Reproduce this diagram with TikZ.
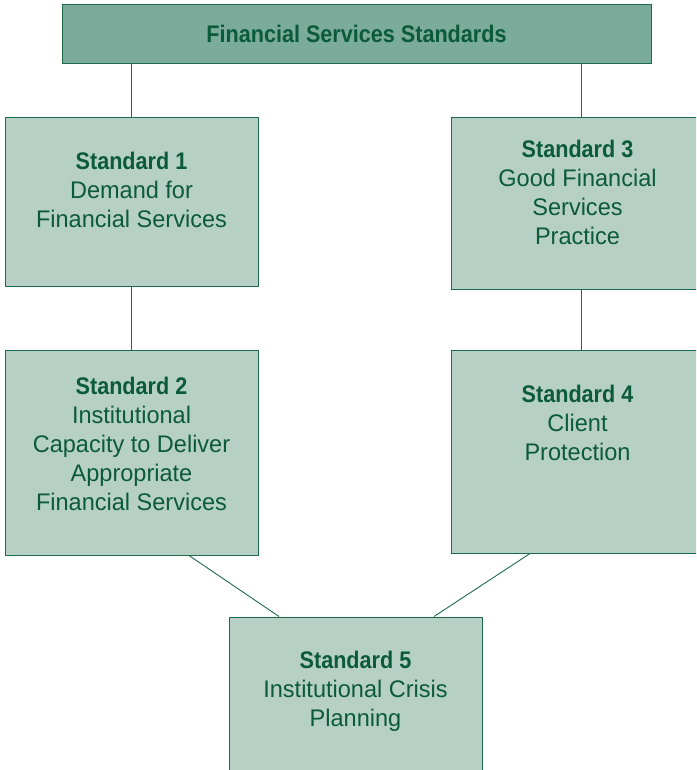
\documentclass[tikz,border=0pt]{standalone}
\usepackage{fontspec}
\setmainfont{Liberation Sans}[FakeStretch=0.98, BoldFeatures={FakeStretch=0.9}]
\definecolor{boxfill}{HTML}{B7D0C6}
\definecolor{topfill}{HTML}{7BAB9A}
\definecolor{edge}{HTML}{1E6B4A}
\definecolor{ink}{HTML}{0B5A3A}
\tikzset{
  stdbox/.style={draw=edge, fill=boxfill, line width=1pt, inner sep=0pt, minimum width=253pt},
  stdtext/.style={anchor=base, align=center, text=ink, inner sep=0pt, font=\fontsize{24}{29}\selectfont},
  link/.style={draw=edge, line width=0.9pt}
}
\begin{document}
\begin{tikzpicture}[x=1pt,y=-1pt]
\useasboundingbox (0,0) rectangle (696,770);
\clip (0,0) rectangle (696,770);

\node [draw=edge, fill=topfill, line width=1pt, minimum width=589pt, minimum height=59pt] (top) at (356.5,34.5) {};
\node [stdtext] (toptext) at (356.5,43) {\bfseries Financial Services Standards};

\node [stdbox, minimum height=168pt] (s1) at (131.5,202) {};
\node [stdbox, minimum height=171pt] (s3) at (577.5,203.5) {};
\node [stdbox, minimum height=205pt] (s2) at (131.5,452.5) {};
\node [stdbox, minimum height=203pt] (s4) at (577.5,451.5) {};
\node [stdbox, minimum height=170pt] (s5) at (355.5,702) {};

\node [stdtext] (t1) at (131.5,227) {\bfseries Standard 1\\Demand for\\Financial Services};
\node [stdtext] (t3) at (577.5,244) {\bfseries Standard 3\\Good Financial\\Services\\Practice};
\node [stdtext] (t2) at (131.5,510) {\bfseries Standard 2\\Institutional\\Capacity to Deliver\\Appropriate\\Financial Services};
\node [stdtext] (t4) at (577.5,460) {\bfseries Standard 4\\Client\\Protection};
\node [stdtext] (t5) at (355.5,726) {\bfseries Standard 5\\Institutional Crisis\\Planning};

% connectors
\draw [link] (s1.north) -- (s1.north |- top.south);
\draw [link] ([xshift=3.5pt]s3.north) -- ([xshift=3.5pt]s3.north |- top.south);
\draw [link] (s1.south) -- (s2.north);
\draw [link] ([xshift=3.5pt]s3.south) -- ([xshift=3.5pt]s4.north);
\draw [link] ([xshift=57.5pt]s2.south) -- ([xshift=-76.5pt]s5.north);
\draw [link] ([xshift=-47.5pt]s4.south) -- ([xshift=78.5pt]s5.north);
\end{tikzpicture}
\end{document}
